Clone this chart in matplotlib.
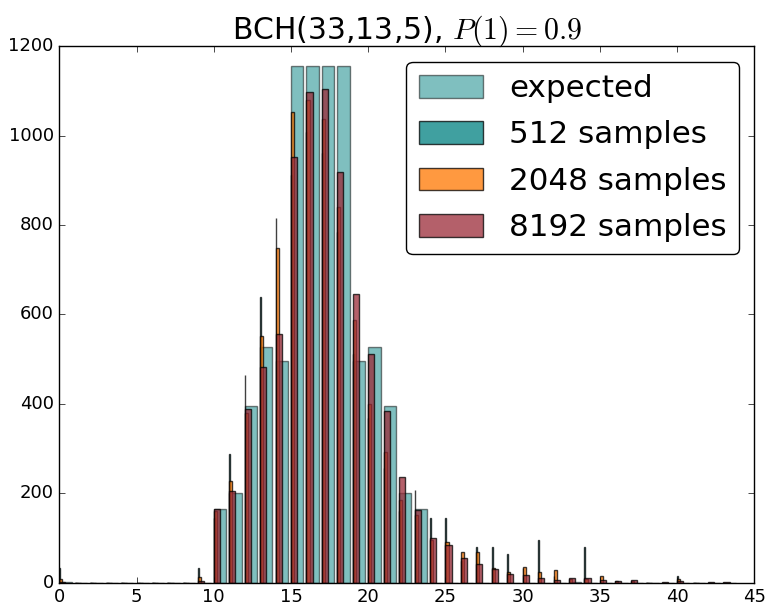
import numpy as np
import matplotlib
matplotlib.use('Agg')
import matplotlib.pyplot as plt

plt.style.use('classic')
plt.rcParams['mathtext.fontset'] = 'cm'

# 码重 0..43
weights = np.arange(44)

# 期望的码重分布
expected = {0: 1, 10: 165, 11: 201, 12: 396, 13: 528, 14: 495, 15: 1155, 16: 1155,
            17: 1155, 18: 1155, 19: 495, 20: 528, 21: 396, 22: 201, 23: 165, 33: 1}

# 采样结果（已缩放到 8192）
s512 = {0: 32, 9: 32, 10: 144, 11: 288, 12: 464, 13: 640, 14: 816, 15: 912, 16: 1008,
        17: 960, 18: 784, 19: 512, 20: 368, 21: 256, 22: 160, 23: 208, 24: 144, 25: 144,
        26: 48, 27: 80, 28: 80, 29: 64, 30: 32, 31: 96, 32: 16, 33: 0, 34: 80, 40: 16}
s2048 = {0: 8, 9: 12, 10: 160, 11: 228, 12: 380, 13: 552, 14: 748, 15: 1052, 16: 1080,
         17: 1036, 18: 840, 19: 588, 20: 400, 21: 292, 22: 184, 23: 152, 24: 96, 25: 92,
         26: 68, 27: 68, 28: 32, 29: 24, 30: 36, 31: 24, 32: 28, 33: 8, 34: 8, 35: 16,
         36: 4, 37: 4, 40: 8}
s8192 = {0: 2, 9: 3, 10: 165, 11: 206, 12: 389, 13: 483, 14: 556, 15: 953, 16: 1097,
         17: 1104, 18: 918, 19: 646, 20: 512, 21: 383, 22: 237, 23: 163, 24: 101, 25: 84,
         26: 56, 27: 41, 28: 31, 29: 19, 30: 17, 31: 10, 32: 7, 33: 11, 34: 11, 35: 5,
         36: 3, 37: 5, 39: 2, 40: 4, 42: 1, 43: 1}


def to_array(d):
    return np.array([d.get(w, 0) for w in weights])


fig = plt.figure(figsize=(7.68, 6.08), dpi=100)
ax = fig.add_axes([0.0772, 0.0416, 0.905, 0.8826])

ax.bar(weights, to_array(expected), width=0.8, align='edge', color='teal', alpha=0.5,
       label='expected')
ax.bar(weights, to_array(s512), width=0.05, align='edge', color='teal', alpha=0.75,
       label='512 samples')
ax.bar(weights, to_array(s2048), width=0.2, align='edge', color='#ff7700', alpha=0.75,
       label='2048 samples')
ax.bar(weights, to_array(s8192), width=0.4, align='edge', color='#9b2b38', alpha=0.75,
       label='8192 samples')

ax.set_xlim(0, 45)
ax.set_ylim(0, 1200)
ax.tick_params(labelsize=13)
ax.set_title('BCH(33,13,5), $P(1)=0.9$', fontsize=21.5, pad=5)
ax.legend(loc='upper right', fontsize=22.3, fancybox=True, handlelength=2.06,
          handletextpad=0.85, labelspacing=0.56, handleheight=0.75, borderpad=0.4)

fig.savefig('out.png', dpi=100, facecolor='white')
